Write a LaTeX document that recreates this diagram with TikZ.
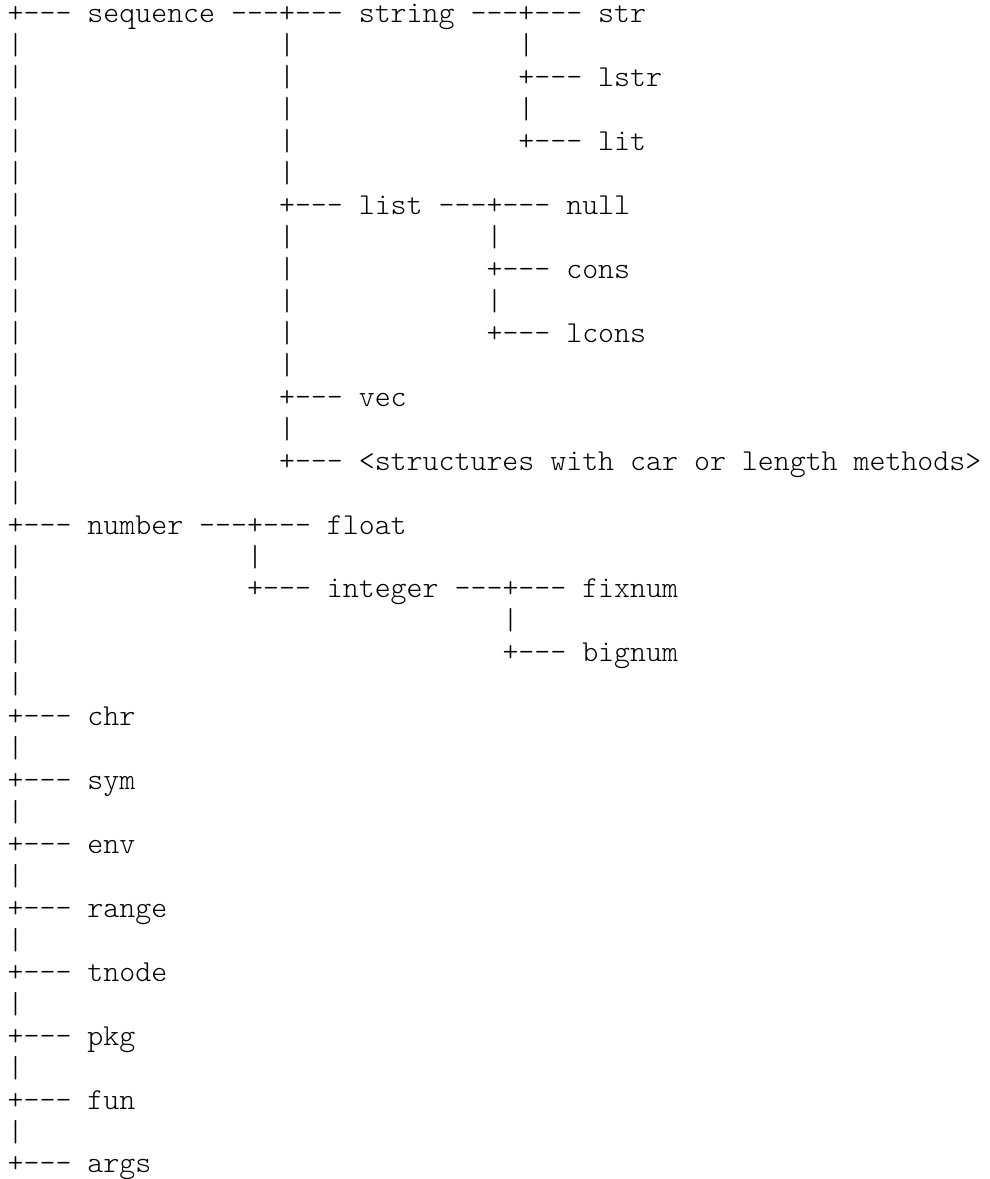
\documentclass[tikz,border=0pt]{standalone}
\usepackage{fontspec}
\usepackage{tikz}

\newfontfamily\lnfont{lmmonolt10-regular.otf}
\newcommand\lnsize{\fontsize{30.4pt}{36pt}\selectfont}
\newlength\cw
\settowidth{\cw}{\lnfont\lnsize 0}

\tikzset{
    ln/.style={anchor=base west,inner sep=0pt,outer sep=0pt,
        font=\lnfont\lnsize},
}

\begin{document}
\begin{tikzpicture}[x=\cw,y=-31.94pt]
    \useasboundingbox (-0.4825,0.28) rectangle (61.48,37.19);

    % trunk on the left
    \foreach \r in {2,...,16} \node[ln](t\r) at (0,\r){|};
    \foreach \r in {18,...,22} \node[ln](t\r) at (0,\r){|};
    \foreach \r in {24,26,...,36} \node[ln](t\r) at (0,\r){|};

    % sequence
    \node[ln](sequence) at (0,1){+--- sequence ---};
    \node[ln](string) at (17,1){+--- string ---};
    \node[ln](str) at (32,1){+--- str};
    \node[ln](lstr) at (32,3){+--- lstr};
    \node[ln](lit) at (32,5){+--- lit};
    \foreach \r in {2,4} \node[ln](s\r) at (32,\r){|};

    \foreach \r in {2,...,6} \node[ln](q\r) at (17,\r){|};
    \foreach \r in {8,...,12} \node[ln](q\r) at (17,\r){|};
    \node[ln](q14) at (17,14){|};

    \node[ln](list) at (17,7){+--- list ---};
    \node[ln](null) at (30,7){+--- null};
    \node[ln](cons) at (30,9){+--- cons};
    \node[ln](lcons) at (30,11){+--- lcons};
    \foreach \r in {8,10} \node[ln](l\r) at (30,\r){|};

    \node[ln](vec) at (17,13){+--- vec};
    \node[ln](structures) at (17,15){+--- <structures with car or length methods>};

    % number
    \node[ln](number) at (0,17){+--- number ---};
    \node[ln](float) at (15,17){+--- float};
    \node[ln](n18) at (15,18){|};
    \node[ln](integer) at (15,19){+--- integer ---};
    \node[ln](fixnum) at (31,19){+--- fixnum};
    \node[ln](i20) at (31,20){|};
    \node[ln](bignum) at (31,21){+--- bignum};

    % the rest
    \foreach \n [count=\i] in {chr,sym,env,range,tnode,pkg,fun,args}
        \node[ln](\n) at (0,21+2*\i){+--- \n};
\end{tikzpicture}
\end{document}
